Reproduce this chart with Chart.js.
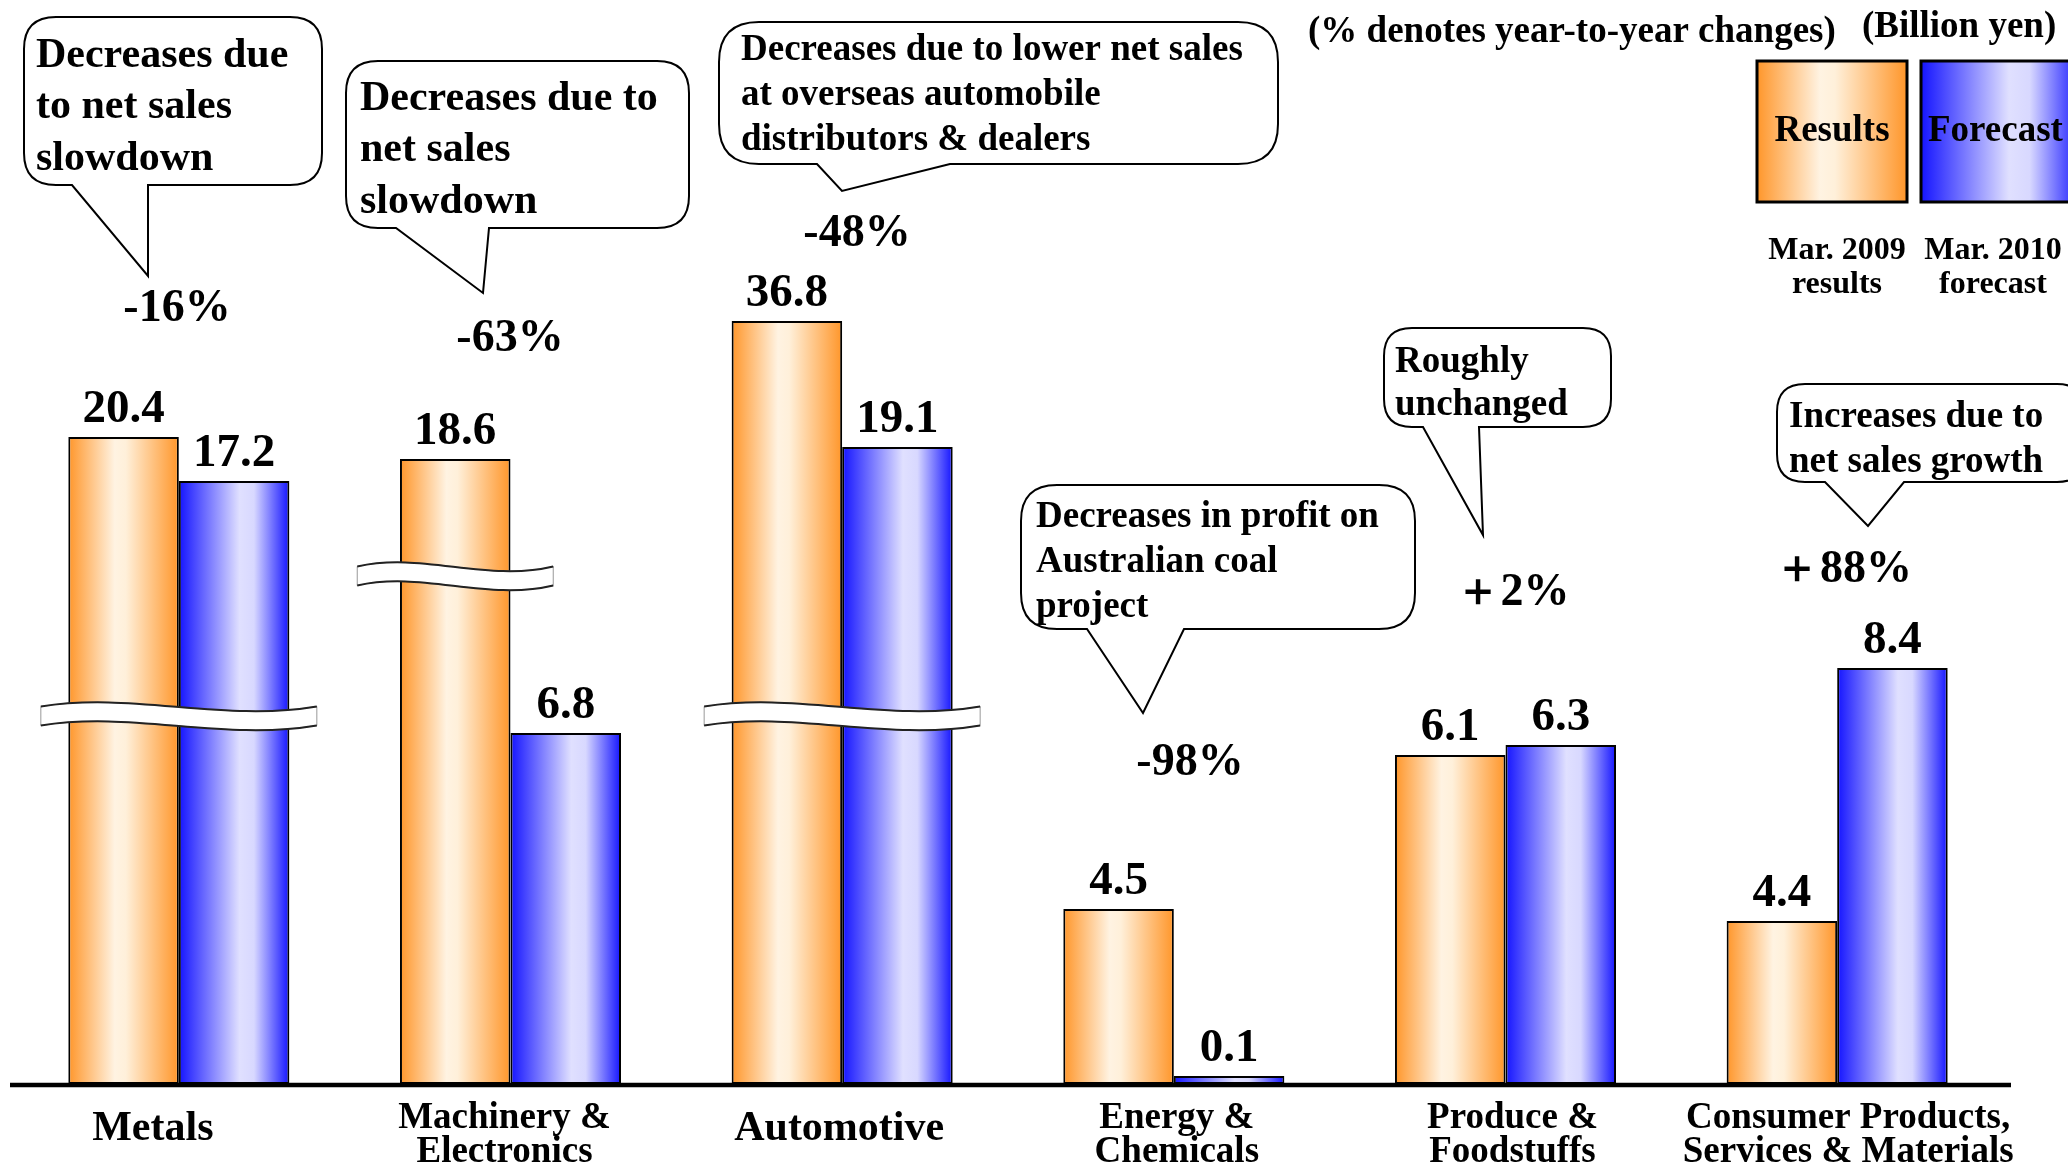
<!DOCTYPE html>
<html>
<head>
<meta charset="utf-8">
<script src="https://cdn.jsdelivr.net/npm/chart.js@4.4.1/dist/chart.umd.min.js"></script>
<style>
    html, body { margin: 0; padding: 0; background: #fff; }
    #wrap { width: 2068px; height: 1166px; position: relative; }
</style>
</head>
<body>
<div id="wrap"><canvas id="segmentChart"></canvas></div>
<script>

// categories (x axis)
const categories = [
    ["Metals"],
    ["Machinery &", "Electronics"],
    ["Automotive"],
    ["Energy &", "Chemicals"],
    ["Produce &", "Foodstuffs"],
    ["Consumer Products,", "Services & Materials"]
]

// values printed above the bars (billion yen)
const results2009 = [20.4, 18.6, 36.8, 4.5, 6.1, 4.4]
const forecast2010 = [17.2, 6.8, 19.1, 0.1, 6.3, 8.4]

// year-to-year changes
const changes = ["-16%", "-63%", "-48%", "-98%", "＋2%", "＋88%"]

// bar lengths as drawn in the picture (broken, not to scale)
const resultsDrawn = [647, 625, 763, 175, 329, 163]
const forecastDrawn = [603, 351, 637, 8, 339, 416]

const SERIF = '"Liberation Serif", "Times New Roman", serif'
const CATEGORY_PCT = 0.6665
const DY = 3 // text nudge down

const ORANGE_STOPS = [[0, "#FF962A"], [0.42, "#FFF3E2"], [0.52, "#FFF0DA"], [1, "#FF962A"]]
const BLUE_STOPS = [[0, "#1414FF"], [0.55, "#E0E0FF"], [0.68, "#D8D8FF"], [1, "#1414FF"]]

function font(size) {
    return `bold ${size}px ${SERIF}`
}

function makeGradient(ctx, left, right, stops) {
    const g = ctx.createLinearGradient(left, 0, right, 0)
    stops.forEach(([o, c]) => g.addColorStop(o, c))
    return g
}

function barFill(stops, side) {
    return function (context) {
        const chart = context.chart
        const x = chart.scales.x
        if (!x || !chart.chartArea) {
            return stops[0][1]
        }
        const center = x.getPixelForValue(context.dataIndex)
        const half = x.width / categories.length * CATEGORY_PCT / 2
        const left = side === 0 ? center - half : center
        return makeGradient(chart.ctx, left, left + half, stops)
    }
}

// speech bubbles
const callouts = [
    { box: [24, 17, 322, 185], tail: [72, 148, 148, 276], r: 32, size: 42, lh: 51.5, x: 36, y: 53,
      lines: ["Decreases due", "to net sales", "slowdown"] },
    { box: [346, 61, 689, 228], tail: [396, 489, 483, 293], r: 32, size: 42, lh: 51.5, x: 360, y: 96,
      lines: ["Decreases due to", "net sales", "slowdown"] },
    { box: [719, 22, 1278, 164], tail: [817, 950, 842, 191], r: 40, size: 37, lh: 45, x: 741, y: 47,
      lines: ["Decreases due to lower net sales", "at overseas automobile", "distributors & dealers"] },
    { box: [1021, 485, 1415, 629], tail: [1087, 1184, 1143, 713], r: 36, size: 37, lh: 45, x: 1036, y: 514,
      lines: ["Decreases in profit on", "Australian coal", "project"] },
    { box: [1384, 328, 1611, 427], tail: [1423, 1479, 1483, 535], r: 28, size: 37, lh: 43, x: 1395, y: 359,
      lines: ["Roughly", "unchanged"] },
    { box: [1777, 384, 2085, 482], tail: [1825, 1904, 1868, 526], r: 28, size: 37, lh: 45, x: 1789, y: 414,
      lines: ["Increases due to", "net sales growth"] }
]

const changePos = [[177, 306], [510, 336], [857, 231], [1190, 760], [1512, 590], [1843, 567]]

function drawCallout(ctx, c) {
    const [l, t, r, b] = c.box
    const [baseL, baseR, tipX, tipY] = c.tail
    const k = c.r

    ctx.save()
    ctx.beginPath()
    ctx.moveTo(l + k, t)
    ctx.lineTo(r - k, t)
    ctx.quadraticCurveTo(r, t, r, t + k)
    ctx.lineTo(r, b - k)
    ctx.quadraticCurveTo(r, b, r - k, b)
    ctx.lineTo(baseR, b)
    ctx.lineTo(tipX, tipY)
    ctx.lineTo(baseL, b)
    ctx.lineTo(l + k, b)
    ctx.quadraticCurveTo(l, b, l, b - k)
    ctx.lineTo(l, t + k)
    ctx.quadraticCurveTo(l, t, l + k, t)
    ctx.closePath()
    ctx.fillStyle = "#fff"
    ctx.fill()
    ctx.lineWidth = 2
    ctx.strokeStyle = "#000"
    ctx.stroke()

    ctx.fillStyle = "#000"
    ctx.font = font(c.size)
    ctx.textAlign = "left"
    ctx.textBaseline = "middle"
    c.lines.forEach((line, i) => {
        ctx.fillText(line, c.x, c.y + DY + i * c.lh)
    })
    ctx.restore()
}

function drawBreak(ctx, cx, cy, w) {
    const h = 19
    const l = cx - w / 2
    const r = cx + w / 2
    const top = cy - h / 2
    const bot = cy + h / 2

    ctx.save()
    ctx.beginPath()
    ctx.moveTo(l, top)
    ctx.bezierCurveTo(l + w * 0.33, top - 15, l + w * 0.66, top + 16, r, top)
    ctx.lineTo(r, bot)
    ctx.bezierCurveTo(l + w * 0.66, bot + 16, l + w * 0.33, bot - 15, l, bot)
    ctx.closePath()
    ctx.fillStyle = "#fff"
    ctx.fill()
    ctx.lineWidth = 1
    ctx.strokeStyle = "#999"
    ctx.stroke()

    ctx.lineWidth = 2
    ctx.strokeStyle = "#222"
    ctx.beginPath()
    ctx.moveTo(l, top)
    ctx.bezierCurveTo(l + w * 0.33, top - 15, l + w * 0.66, top + 16, r, top)
    ctx.moveTo(l, bot)
    ctx.bezierCurveTo(l + w * 0.33, bot - 15, l + w * 0.66, bot + 16, r, bot)
    ctx.stroke()
    ctx.restore()
}

const decorPlugin = {
    id: "decor",

    afterDatasetsDraw(chart) {
        const ctx = chart.ctx
        const x = chart.scales.x
        const y = chart.scales.y
        const area = chart.chartArea

        // axis breaks
        const metaR = chart.getDatasetMeta(0)
        drawBreak(ctx, x.getPixelForValue(0), y.getPixelForValue(368), 276)
        drawBreak(ctx, metaR.data[1].x, y.getPixelForValue(508), 196)
        drawBreak(ctx, x.getPixelForValue(2), y.getPixelForValue(368), 276)

        // baseline
        ctx.save()
        ctx.strokeStyle = "#000"
        ctx.lineWidth = 4.5
        ctx.beginPath()
        ctx.moveTo(area.left - 3, area.bottom + 1)
        ctx.lineTo(area.right + 8, area.bottom + 1)
        ctx.stroke()

        // value labels
        ctx.fillStyle = "#000"
        ctx.font = font(47)
        ctx.textAlign = "center"
        ctx.textBaseline = "alphabetic"
        const printed = [results2009, forecast2010]
        printed.forEach((values, di) => {
            chart.getDatasetMeta(di).data.forEach((bar, i) => {
                ctx.fillText(values[i].toFixed(1), bar.x, bar.y - 15)
            })
        })

        // category labels
        const labelShift = [-26, -6, -3, 3, 7, 11]
        ctx.textBaseline = "middle"
        categories.forEach((lines, i) => {
            const cx = x.getPixelForValue(i) + labelShift[i]
            if (lines.length === 1) {
                ctx.font = font(42)
                ctx.fillText(lines[0], cx, 1126 + DY)
            } else {
                ctx.font = font(37)
                lines.forEach((line, j) => ctx.fillText(line, cx, 1115 + DY + j * 34))
            }
        })
        ctx.restore()
    },

    afterDraw(chart) {
        const ctx = chart.ctx

        callouts.forEach(c => drawCallout(ctx, c))

        ctx.save()
        ctx.fillStyle = "#000"
        ctx.textAlign = "center"
        ctx.textBaseline = "middle"
        ctx.font = font(46)
        changes.forEach((text, i) => {
            ctx.fillText(text, changePos[i][0], changePos[i][1] + DY)
        })

        // header notes
        ctx.font = font(37)
        ctx.textAlign = "left"
        ctx.fillText("(% denotes year-to-year changes)", 1308, 29 + DY)
        ctx.fillText("(Billion yen)", 1862, 24 + DY)

        // legend boxes
        const boxes = [
            [1757, 61, 150, 141, ORANGE_STOPS],
            [1921, 61, 160, 141, BLUE_STOPS]
        ]
        boxes.forEach(([bx, by, bw, bh, stops]) => {
            ctx.fillStyle = makeGradient(ctx, bx, bx + bw, stops)
            ctx.fillRect(bx, by, bw, bh)
            ctx.lineWidth = 3
            ctx.strokeStyle = "#000"
            ctx.strokeRect(bx, by, bw, bh)
        })

        ctx.fillStyle = "#000"
        ctx.font = font(37)
        ctx.textAlign = "center"
        ctx.fillText("Results", 1832, 128 + DY)
        ctx.textAlign = "left"
        ctx.fillText("Forecast", 1928, 128 + DY)

        ctx.font = font(32)
        ctx.textAlign = "center"
        ctx.fillText("Mar. 2009", 1837, 248 + DY)
        ctx.fillText("results", 1837, 282 + DY)
        ctx.fillText("Mar. 2010", 1993, 248 + DY)
        ctx.fillText("forecast", 1993, 282 + DY)
        ctx.restore()
    }
}

new Chart(
    document.getElementById("segmentChart"),
    {
        type: "bar",

        data: {
            labels: categories,

            datasets: [
                {
                    label: "Mar. 2009 results",
                    data: resultsDrawn,
                    backgroundColor: barFill(ORANGE_STOPS, 0),
                    borderColor: "#000",
                    borderWidth: 2,
                    borderSkipped: false
                },
                {
                    label: "Mar. 2010 forecast",
                    data: forecastDrawn,
                    backgroundColor: barFill(BLUE_STOPS, 1),
                    borderColor: "#000",
                    borderWidth: 2,
                    borderSkipped: false
                }
            ]
        },

        options: {
            responsive: true,
            maintainAspectRatio: false,
            animation: false,
            devicePixelRatio: 1,
            layout: {
                padding: { left: 13, right: 65, top: 84, bottom: 82 }
            },
            datasets: {
                bar: {
                    barPercentage: 1,
                    categoryPercentage: CATEGORY_PCT
                }
            },
            plugins: {
                legend: { display: false },
                tooltip: { enabled: false }
            },
            scales: {
                x: {
                    display: false
                },
                y: {
                    display: false,
                    min: 0,
                    max: 1000
                }
            }
        },

        plugins: [decorPlugin]
    }
)
</script>
</body>
</html>
